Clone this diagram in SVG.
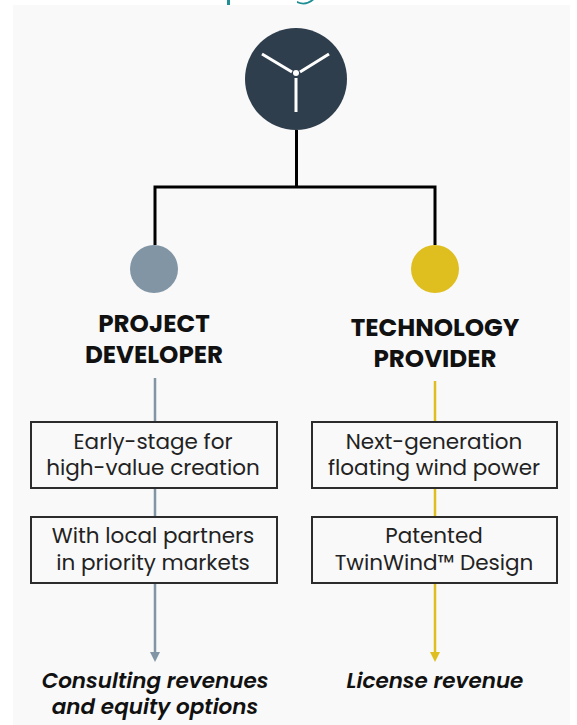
<svg xmlns="http://www.w3.org/2000/svg" width="577" height="725" viewBox="0 0 577 725">
<style>
.box{fill:none;stroke:#2c2c2c;stroke-width:2}
.t{font-family:Poppins,"Open Sans","Liberation Sans",sans-serif;font-size:21.5px;fill:#222;text-anchor:middle}
.h{font-family:Poppins,"Open Sans","Liberation Sans",sans-serif;font-size:24.6px;font-weight:700;fill:#111;text-anchor:middle}
.o{font-family:Poppins,"Open Sans","Liberation Sans",sans-serif;font-size:21.5px;font-weight:600;font-style:italic;fill:#111;text-anchor:middle}
.blade{stroke:#fff;stroke-width:3;fill:none}
</style>
<rect width="577" height="725" fill="#fff"/>
<rect x="13" y="5" width="557" height="720" fill="#f9f9f9"/>
<path d="M227 0h3v5h-3zM297 1q7 4 14-1h3q-8 7-17 3z" fill="#1f8f94"/>
<g id="connectors" fill="none">
<path d="M296.500 130V187M155 245V187H435V245" stroke="#000" stroke-width="3"/>
<path d="M155 378V422M155 488V517M155 584V654" stroke="#8195a5" stroke-width="2.500"/>
<path d="M150 652h10l-5 10z" fill="#8195a5"/>
<path d="M435 381V422M435 488V517M435 584V654" stroke="#dfbe20" stroke-width="2.500"/>
<path d="M430 652h10l-5 10z" fill="#dfbe20"/>
</g>
<g id="turbine">
<circle cx="296" cy="79" r="51" fill="#2f3e4c"/>
<path class="blade" d="M262 54L292 72M329 54L300 72M296 78V112"/>
<circle cx="296" cy="73" r="3" fill="#fff"/>
</g>
<g id="dev-dot"><circle cx="154" cy="269" r="24" fill="#8195a5"/></g>
<g id="tech-dot"><circle cx="435" cy="269" r="24" fill="#dfbe20"/></g>
<g id="dev-title"><text class="h" x="154" y="332">PROJECT</text><text class="h" x="154" y="363">DEVELOPER</text></g>
<g id="tech-title"><text class="h" x="435" y="336">TECHNOLOGY</text><text class="h" x="435" y="367">PROVIDER</text></g>
<g id="dev-box1"><rect class="box" x="31" y="422" width="246" height="66"/><text class="t" x="153" y="449">Early-stage for</text><text class="t" x="153" y="475">high-value creation</text></g>
<g id="dev-box2"><rect class="box" x="31" y="517" width="246" height="66"/><text class="t" x="153" y="543">With local partners</text><text class="t" x="153" y="570">in priority markets</text></g>
<g id="tech-box1"><rect class="box" x="312" y="422" width="245" height="66"/><text class="t" x="434" y="449">Next-generation</text><text class="t" x="434" y="475">floating wind power</text></g>
<g id="tech-box2"><rect class="box" x="312" y="517" width="245" height="66"/><text class="t" x="434" y="543">Patented</text><text class="t" x="434" y="570">TwinWind™ Design</text></g>
<g id="dev-out"><text class="o" x="155" y="688">Consulting revenues</text><text class="o" x="155" y="714">and equity options</text></g>
<g id="tech-out"><text class="o" x="435" y="688">License revenue</text></g>
</svg>
